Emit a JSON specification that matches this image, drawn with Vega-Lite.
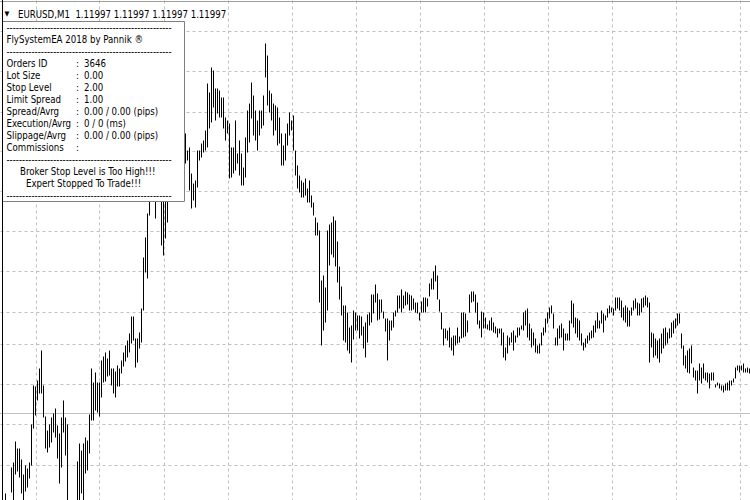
{
  "$schema": "https://vega.github.io/schema/vega-lite/v6.json",
  "width": 750,
  "height": 500,
  "padding": 0,
  "autosize": {"type": "none"},
  "background": "#ffffff",
  "config": {
    "view": {"stroke": null},
    "axis": {"labels": false, "ticks": false, "domain": false, "title": null, "grid": true, "gridColor": "#c0c0c0", "gridDash": [3, 3], "gridWidth": 1, "gridOpacity": 1},
    "text": {"font": "DejaVu Sans Condensed, DejaVu Sans", "fontSize": 9.6, "color": "#000000"}
  },
  "datasets": {
    "bars": [
      {"t":0,"h":1.11917,"l":1.11905},{"t":1,"h":1.11907,"l":1.11895},{"t":2,"h":1.11908,"l":1.11898},{"t":3,"h":1.11943,"l":1.11918},
      {"t":4,"h":1.11948,"l":1.11905},{"t":5,"h":1.11969,"l":1.11936},{"t":6,"h":1.11962,"l":1.11939},{"t":7,"h":1.11962,"l":1.11933},
      {"t":8,"h":1.11951,"l":1.11917},{"t":9,"h":1.11936,"l":1.11905},{"t":10,"h":1.11945,"l":1.11919},{"t":11,"h":1.11942,"l":1.11923},
      {"t":12,"h":1.11948,"l":1.11932},{"t":13,"h":1.11986,"l":1.11945},{"t":14,"h":1.12025,"l":1.11982},{"t":15,"h":1.12024,"l":1.11995},
      {"t":16,"h":1.12030,"l":1.12010},{"t":17,"h":1.12042,"l":1.12017},{"t":18,"h":1.12060,"l":1.12017},{"t":19,"h":1.12025,"l":1.11993},
      {"t":20,"h":1.11994,"l":1.11962},{"t":21,"h":1.11980,"l":1.11958},{"t":22,"h":1.11986,"l":1.11963},{"t":23,"h":1.11993,"l":1.11968},
      {"t":24,"h":1.11997,"l":1.11978},{"t":25,"h":1.12002,"l":1.11973},{"t":26,"h":1.11985,"l":1.11952},{"t":27,"h":1.11977,"l":1.11927},
      {"t":28,"h":1.11993,"l":1.11943},{"t":29,"h":1.12010,"l":1.11978},{"t":30,"h":1.11993,"l":1.11955},{"t":31,"h":1.11986,"l":1.11905},
      {"t":32,"h":1.11907,"l":1.11890},{"t":33,"h":1.11900,"l":1.11885},{"t":34,"h":1.11905,"l":1.11892},{"t":35,"h":1.11908,"l":1.11895},
      {"t":36,"h":1.11949,"l":1.11905},{"t":37,"h":1.11967,"l":1.11905},{"t":38,"h":1.11960,"l":1.11917},{"t":39,"h":1.11967,"l":1.11905},
      {"t":40,"h":1.11973,"l":1.11937},{"t":41,"h":1.11970,"l":1.11940},{"t":42,"h":1.11996,"l":1.11957},{"t":43,"h":1.12042,"l":1.11990},
      {"t":44,"h":1.12028,"l":1.11990},{"t":45,"h":1.12038,"l":1.12000},{"t":46,"h":1.12028,"l":1.11998},{"t":47,"h":1.12028,"l":1.11994},
      {"t":48,"h":1.12050,"l":1.12013},{"t":49,"h":1.12054,"l":1.12028},{"t":50,"h":1.12058,"l":1.12029},{"t":51,"h":1.12052,"l":1.12034},
      {"t":52,"h":1.12060,"l":1.12035},{"t":53,"h":1.12042,"l":1.12025},{"t":54,"h":1.12042,"l":1.12017},{"t":55,"h":1.12039,"l":1.12013},
      {"t":56,"h":1.12045,"l":1.12024},{"t":57,"h":1.12042,"l":1.12024},{"t":58,"h":1.12050,"l":1.12037},{"t":59,"h":1.12058,"l":1.12044},
      {"t":60,"h":1.12065,"l":1.12049},{"t":61,"h":1.12070,"l":1.12053},{"t":62,"h":1.12077,"l":1.12058},{"t":63,"h":1.12094,"l":1.12067},
      {"t":64,"h":1.12094,"l":1.12070},{"t":65,"h":1.12072,"l":1.12043},{"t":66,"h":1.12072,"l":1.12048},{"t":67,"h":1.12078,"l":1.12062},
      {"t":68,"h":1.12102,"l":1.12068},{"t":69,"h":1.12153,"l":1.12100},{"t":70,"h":1.12173,"l":1.12138},{"t":71,"h":1.12197,"l":1.12132},
      {"t":72,"h":1.12225,"l":1.12195},{"t":73,"h":1.12240,"l":1.12214},{"t":74,"h":1.12235,"l":1.12212},{"t":75,"h":1.12230,"l":1.12192},
      {"t":76,"h":1.12250,"l":1.12220},{"t":77,"h":1.12260,"l":1.12225},{"t":78,"h":1.12235,"l":1.12165},{"t":79,"h":1.12220,"l":1.12155},
      {"t":80,"h":1.12230,"l":1.12172},{"t":81,"h":1.12240,"l":1.12188},{"t":82,"h":1.12250,"l":1.12215},{"t":83,"h":1.12260,"l":1.12230},
      {"t":84,"h":1.12270,"l":1.12235},{"t":85,"h":1.12260,"l":1.12225},{"t":86,"h":1.12265,"l":1.12240},{"t":87,"h":1.12275,"l":1.12250},
      {"t":88,"h":1.12270,"l":1.12245},{"t":89,"h":1.12280,"l":1.12255},{"t":90,"h":1.12277,"l":1.12247},{"t":91,"h":1.12260,"l":1.12250},
      {"t":92,"h":1.12263,"l":1.12220},{"t":93,"h":1.12237,"l":1.12202},{"t":94,"h":1.12227,"l":1.12210},{"t":95,"h":1.12230,"l":1.12203},
      {"t":96,"h":1.12260,"l":1.12223},{"t":97,"h":1.12260,"l":1.12250},{"t":98,"h":1.12267,"l":1.12253},{"t":99,"h":1.12270,"l":1.12258},
      {"t":100,"h":1.12280,"l":1.12260},{"t":101,"h":1.12327,"l":1.12263},{"t":102,"h":1.12318,"l":1.12282},{"t":103,"h":1.12343,"l":1.12288},
      {"t":104,"h":1.12340,"l":1.12303},{"t":105,"h":1.12322,"l":1.12290},{"t":106,"h":1.12322,"l":1.12297},{"t":107,"h":1.12320,"l":1.12293},
      {"t":108,"h":1.12313,"l":1.12293},{"t":109,"h":1.12313,"l":1.12282},{"t":110,"h":1.12293,"l":1.12270},{"t":111,"h":1.12290,"l":1.12277},
      {"t":112,"h":1.12287,"l":1.12232},{"t":113,"h":1.12263,"l":1.12233},{"t":114,"h":1.12263,"l":1.12237},{"t":115,"h":1.12290,"l":1.12240},
      {"t":116,"h":1.12257,"l":1.12247},{"t":117,"h":1.12270,"l":1.12235},{"t":118,"h":1.12257,"l":1.12225},{"t":119,"h":1.12243,"l":1.12225},
      {"t":120,"h":1.12273,"l":1.12233},{"t":121,"h":1.12300,"l":1.12258},{"t":122,"h":1.12307,"l":1.12268},{"t":123,"h":1.12328,"l":1.12292},
      {"t":124,"h":1.12315,"l":1.12275},{"t":125,"h":1.12300,"l":1.12270},{"t":126,"h":1.12290,"l":1.12260},{"t":127,"h":1.12300,"l":1.12275},
      {"t":128,"h":1.12300,"l":1.12282},{"t":129,"h":1.12315,"l":1.12285},{"t":130,"h":1.12367,"l":1.12333},{"t":131,"h":1.12355,"l":1.12305},
      {"t":132,"h":1.12320,"l":1.12298},{"t":133,"h":1.12317,"l":1.12290},{"t":134,"h":1.12307,"l":1.12275},{"t":135,"h":1.12305,"l":1.12280},
      {"t":136,"h":1.12303,"l":1.12265},{"t":137,"h":1.12293,"l":1.12267},{"t":138,"h":1.12277,"l":1.12245},{"t":139,"h":1.12265,"l":1.12245},
      {"t":140,"h":1.12277,"l":1.12250},{"t":141,"h":1.12287,"l":1.12265},{"t":142,"h":1.12298,"l":1.12275},{"t":143,"h":1.12290,"l":1.12280},
      {"t":144,"h":1.12295,"l":1.12260},{"t":145,"h":1.12260,"l":1.12235},{"t":146,"h":1.12245,"l":1.12222},{"t":147,"h":1.12235,"l":1.12218},
      {"t":148,"h":1.12230,"l":1.12213},{"t":149,"h":1.12228,"l":1.12213},{"t":150,"h":1.12232,"l":1.12215},{"t":151,"h":1.12222,"l":1.12208},
      {"t":152,"h":1.12230,"l":1.12208},{"t":153,"h":1.12215,"l":1.12203},{"t":154,"h":1.12208,"l":1.12195},{"t":155,"h":1.12193,"l":1.12175},
      {"t":156,"h":1.12188,"l":1.12175},{"t":157,"h":1.12180,"l":1.12108},{"t":158,"h":1.12130,"l":1.12065},{"t":159,"h":1.12135,"l":1.12080},
      {"t":160,"h":1.12123,"l":1.12088},{"t":161,"h":1.12180,"l":1.12100},{"t":162,"h":1.12186,"l":1.12145},{"t":163,"h":1.12188,"l":1.12156},
      {"t":164,"h":1.12194,"l":1.12153},{"t":165,"h":1.12190,"l":1.12144},{"t":166,"h":1.12169,"l":1.12128},{"t":167,"h":1.12144,"l":1.12111},
      {"t":168,"h":1.12124,"l":1.12095},{"t":169,"h":1.12105,"l":1.12070},{"t":170,"h":1.12105,"l":1.12068},{"t":171,"h":1.12098,"l":1.12060},
      {"t":172,"h":1.12083,"l":1.12057},{"t":173,"h":1.12085,"l":1.12048},{"t":174,"h":1.12100,"l":1.12071},{"t":175,"h":1.12098,"l":1.12080},
      {"t":176,"h":1.12095,"l":1.12080},{"t":177,"h":1.12095,"l":1.12072},{"t":178,"h":1.12094,"l":1.12075},{"t":179,"h":1.12084,"l":1.12062},
      {"t":180,"h":1.12088,"l":1.12053},{"t":181,"h":1.12096,"l":1.12068},{"t":182,"h":1.12098,"l":1.12085},{"t":183,"h":1.12116,"l":1.12088},
      {"t":184,"h":1.12116,"l":1.12097},{"t":185,"h":1.12126,"l":1.12108},{"t":186,"h":1.12117,"l":1.12090},{"t":187,"h":1.12111,"l":1.12091},
      {"t":188,"h":1.12111,"l":1.12098},{"t":189,"h":1.12099,"l":1.12092},{"t":190,"h":1.12092,"l":1.12079},{"t":191,"h":1.12092,"l":1.12050},
      {"t":192,"h":1.12090,"l":1.12070},{"t":193,"h":1.12090,"l":1.12080},{"t":194,"h":1.12098,"l":1.12083},{"t":195,"h":1.12100,"l":1.12094},
      {"t":196,"h":1.12115,"l":1.12098},{"t":197,"h":1.12115,"l":1.12102},{"t":198,"h":1.12121,"l":1.12098},{"t":199,"h":1.12115,"l":1.12102},
      {"t":200,"h":1.12119,"l":1.12105},{"t":201,"h":1.12118,"l":1.12106},{"t":202,"h":1.12116,"l":1.12100},{"t":203,"h":1.12115,"l":1.12100},
      {"t":204,"h":1.12112,"l":1.12101},{"t":205,"h":1.12108,"l":1.12098},{"t":206,"h":1.12108,"l":1.12097},{"t":207,"h":1.12098,"l":1.12090},
      {"t":208,"h":1.12109,"l":1.12098},{"t":209,"h":1.12113,"l":1.12098},{"t":210,"h":1.12113,"l":1.12098},{"t":211,"h":1.12112,"l":1.12104},
      {"t":212,"h":1.12127,"l":1.12114},{"t":213,"h":1.12132,"l":1.12121},{"t":214,"h":1.12139,"l":1.12121},{"t":215,"h":1.12145,"l":1.12129},
      {"t":216,"h":1.12135,"l":1.12111},{"t":217,"h":1.12111,"l":1.12099},{"t":218,"h":1.12098,"l":1.12081},{"t":219,"h":1.12082,"l":1.12065},
      {"t":220,"h":1.12082,"l":1.12072},{"t":221,"h":1.12080,"l":1.12070},{"t":222,"h":1.12083,"l":1.12063},{"t":223,"h":1.12073,"l":1.12060},
      {"t":224,"h":1.12075,"l":1.12055},{"t":225,"h":1.12075,"l":1.12065},{"t":226,"h":1.12083,"l":1.12067},{"t":227,"h":1.12074,"l":1.12068},
      {"t":228,"h":1.12098,"l":1.12072},{"t":229,"h":1.12098,"l":1.12073},{"t":230,"h":1.12097,"l":1.12074},{"t":231,"h":1.12090,"l":1.12078},
      {"t":232,"h":1.12116,"l":1.12098},{"t":233,"h":1.12119,"l":1.12108},{"t":234,"h":1.12119,"l":1.12109},{"t":235,"h":1.12116,"l":1.12098},
      {"t":236,"h":1.12108,"l":1.12086},{"t":237,"h":1.12090,"l":1.12082},{"t":238,"h":1.12099,"l":1.12073},{"t":239,"h":1.12098,"l":1.12082},
      {"t":240,"h":1.12093,"l":1.12082},{"t":241,"h":1.12086,"l":1.12081},{"t":242,"h":1.12090,"l":1.12080},{"t":243,"h":1.12093,"l":1.12080},
      {"t":244,"h":1.12088,"l":1.12078},{"t":245,"h":1.12084,"l":1.12077},{"t":246,"h":1.12082,"l":1.12073},{"t":247,"h":1.12082,"l":1.12077},
      {"t":248,"h":1.12082,"l":1.12065},{"t":249,"h":1.12078,"l":1.12053},{"t":250,"h":1.12063,"l":1.12050},{"t":251,"h":1.12075,"l":1.12057},
      {"t":252,"h":1.12073,"l":1.12065},{"t":253,"h":1.12078,"l":1.12068},{"t":254,"h":1.12080,"l":1.12060},{"t":255,"h":1.12075,"l":1.12068},
      {"t":256,"h":1.12083,"l":1.12073},{"t":257,"h":1.12083,"l":1.12075},{"t":258,"h":1.12085,"l":1.12081},{"t":259,"h":1.12098,"l":1.12080},
      {"t":260,"h":1.12100,"l":1.12085},{"t":261,"h":1.12102,"l":1.12073},{"t":262,"h":1.12087,"l":1.12070},{"t":263,"h":1.12082,"l":1.12063},
      {"t":264,"h":1.12078,"l":1.12065},{"t":265,"h":1.12072,"l":1.12058},{"t":266,"h":1.12065,"l":1.12057},{"t":267,"h":1.12067,"l":1.12057},
      {"t":268,"h":1.12078,"l":1.12065},{"t":269,"h":1.12083,"l":1.12075},{"t":270,"h":1.12092,"l":1.12078},{"t":271,"h":1.12098,"l":1.12087},
      {"t":272,"h":1.12103,"l":1.12092},{"t":273,"h":1.12105,"l":1.12097},{"t":274,"h":1.12097,"l":1.12082},{"t":275,"h":1.12073,"l":1.12065},
      {"t":276,"h":1.12082,"l":1.12065},{"t":277,"h":1.12085,"l":1.12072},{"t":278,"h":1.12087,"l":1.12073},{"t":279,"h":1.12082,"l":1.12060},
      {"t":280,"h":1.12077,"l":1.12070},{"t":281,"h":1.12077,"l":1.12070},{"t":282,"h":1.12090,"l":1.12070},{"t":283,"h":1.12110,"l":1.12087},
      {"t":284,"h":1.12107,"l":1.12083},{"t":285,"h":1.12093,"l":1.12077},{"t":286,"h":1.12092,"l":1.12073},{"t":287,"h":1.12090,"l":1.12070},
      {"t":288,"h":1.12077,"l":1.12065},{"t":289,"h":1.12068,"l":1.12060},{"t":290,"h":1.12072,"l":1.12063},{"t":291,"h":1.12075,"l":1.12067},
      {"t":292,"h":1.12078,"l":1.12070},{"t":293,"h":1.12080,"l":1.12072},{"t":294,"h":1.12085,"l":1.12073},{"t":295,"h":1.12090,"l":1.12078},
      {"t":296,"h":1.12098,"l":1.12082},{"t":297,"h":1.12090,"l":1.12082},{"t":298,"h":1.12100,"l":1.12087},{"t":299,"h":1.12097,"l":1.12078},
      {"t":300,"h":1.12095,"l":1.12090},{"t":301,"h":1.12102,"l":1.12093},{"t":302,"h":1.12105,"l":1.12097},{"t":303,"h":1.12103,"l":1.12098},
      {"t":304,"h":1.12102,"l":1.12095},{"t":305,"h":1.12113,"l":1.12100},{"t":306,"h":1.12113,"l":1.12102},{"t":307,"h":1.12113,"l":1.12100},
      {"t":308,"h":1.12110,"l":1.12093},{"t":309,"h":1.12103,"l":1.12090},{"t":310,"h":1.12105,"l":1.12088},{"t":311,"h":1.12103,"l":1.12084},
      {"t":312,"h":1.12100,"l":1.12084},{"t":313,"h":1.12103,"l":1.12095},{"t":314,"h":1.12110,"l":1.12100},{"t":315,"h":1.12112,"l":1.12102},
      {"t":316,"h":1.12108,"l":1.12095},{"t":317,"h":1.12107,"l":1.12095},{"t":318,"h":1.12112,"l":1.12098},{"t":319,"h":1.12113,"l":1.12103},
      {"t":320,"h":1.12115,"l":1.12105},{"t":321,"h":1.12113,"l":1.12103},{"t":322,"h":1.12108,"l":1.12048},{"t":323,"h":1.12078,"l":1.12063},
      {"t":324,"h":1.12077,"l":1.12053},{"t":325,"h":1.12072,"l":1.12055},{"t":326,"h":1.12070,"l":1.12052},{"t":327,"h":1.12072,"l":1.12048},
      {"t":328,"h":1.12077,"l":1.12057},{"t":329,"h":1.12082,"l":1.12062},{"t":330,"h":1.12083,"l":1.12065},{"t":331,"h":1.12078,"l":1.12067},
      {"t":332,"h":1.12082,"l":1.12072},{"t":333,"h":1.12088,"l":1.12073},{"t":334,"h":1.12090,"l":1.12077},{"t":335,"h":1.12092,"l":1.12082},
      {"t":336,"h":1.12097,"l":1.12085},{"t":337,"h":1.12097,"l":1.12087},{"t":338,"h":1.12077,"l":1.12062},{"t":339,"h":1.12065,"l":1.12045},
      {"t":340,"h":1.12055,"l":1.12042},{"t":341,"h":1.12060,"l":1.12038},{"t":342,"h":1.12062,"l":1.12037},{"t":343,"h":1.12065,"l":1.12047},
      {"t":344,"h":1.12043,"l":1.12033},{"t":345,"h":1.12040,"l":1.12030},{"t":346,"h":1.12040,"l":1.12017},{"t":347,"h":1.12047,"l":1.12030},
      {"t":348,"h":1.12043,"l":1.12027},{"t":349,"h":1.12047,"l":1.12032},{"t":350,"h":1.12038,"l":1.12030},{"t":351,"h":1.12038,"l":1.12028},
      {"t":352,"h":1.12037,"l":1.12022},{"t":353,"h":1.12038,"l":1.12030},{"t":354,"h":1.12038,"l":1.12030},{"t":355,"h":1.12026,"l":1.12023},
      {"t":356,"h":1.12028,"l":1.12025},{"t":357,"h":1.12027,"l":1.12022},{"t":358,"h":1.12025,"l":1.12020},{"t":359,"h":1.12025,"l":1.12018},
      {"t":360,"h":1.12027,"l":1.12020},{"t":361,"h":1.12028,"l":1.12020},{"t":362,"h":1.12030,"l":1.12020},{"t":363,"h":1.12030,"l":1.12025},
      {"t":364,"h":1.12032,"l":1.12028},{"t":365,"h":1.12043,"l":1.12032},{"t":366,"h":1.12045,"l":1.12040},{"t":367,"h":1.12045,"l":1.12038},
      {"t":368,"h":1.12045,"l":1.12040},{"t":369,"h":1.12047,"l":1.12038},{"t":370,"h":1.12042,"l":1.12038},{"t":371,"h":1.12043,"l":1.12038},
      {"t":372,"h":1.12042,"l":1.12037}
    ]
  },
  "layer": [
    {
      "data": {"values": [{"bid": 1.11997}]},
      "mark": {"type": "rule", "color": "#c0c0c0", "strokeWidth": 1},
      "encoding": {
        "y": {"field": "bid", "type": "quantitative", "scale": {"domain": [1.119105, 1.124105], "nice": false, "zero": false},
              "axis": {"values": [1.12379, 1.12339, 1.12299, 1.12259, 1.12219, 1.12179, 1.12139, 1.12099, 1.12066, 1.12026, 1.11986, 1.11946]}}
      }
    },
    {
      "data": {"name": "bars"},
      "mark": {"type": "rule", "color": "#000000", "strokeWidth": 1, "clip": true},
      "encoding": {
        "x": {"field": "t", "type": "quantitative", "scale": {"domain": [-2.75, 372.25], "nice": false, "zero": false},
              "axis": {"values": [15, 31, 47, 63, 79, 95, 111, 127, 143, 159, 175, 191, 207, 223, 239, 255, 271, 287, 303, 319, 335, 351, 367]}},
        "y": {"field": "h", "type": "quantitative", "scale": {"domain": [1.119105, 1.124105], "nice": false, "zero": false},
              "axis": {"values": [1.12379, 1.12339, 1.12299, 1.12259, 1.12219, 1.12179, 1.12139, 1.12099, 1.12066, 1.12026, 1.11986, 1.11946]}},
        "y2": {"field": "l"}
      }
    },
    {
      "data": {"values": [{}]},
      "mark": {"type": "rect", "fill": "#ffffff", "stroke": "#808080", "strokeWidth": 1},
      "encoding": {
        "x": {"datum": -1.5, "type": "quantitative", "scale": {"domain": [-2.75, 372.25], "nice": false, "zero": false}},
        "x2": {"datum": 89.5},
        "y": {"datum": 1.12389, "type": "quantitative", "scale": {"domain": [1.119105, 1.124105], "nice": false, "zero": false}},
        "y2": {"datum": 1.12209}
      }
    },
    {
      "data": {"values": [{}]},
      "mark": {"type": "rule", "color": "#a0a0a0", "strokeWidth": 1},
      "encoding": {
        "y": {"datum": 1.12409, "type": "quantitative", "scale": {"domain": [1.119105, 1.124105], "nice": false, "zero": false}}
      }
    },
    {
      "data": {"values": [{}]},
      "mark": {"type": "rule", "color": "#000000", "strokeWidth": 1},
      "encoding": {
        "x": {"datum": -1.5, "type": "quantitative", "scale": {"domain": [-2.75, 372.25], "nice": false, "zero": false}}
      }
    },
    {
      "data": {"values": [{}]},
      "mark": {"type": "text", "align": "left", "baseline": "alphabetic", "lineHeight": 12,
               "text": ["-----------------------------------------------------", "FlySystemEA 2018 by Pannik ®", "-----------------------------------------------------", "Orders ID", "Lot Size", "Stop Level", "Limit Spread", "Spread/Avrg", "Execution/Avrg", "Slippage/Avrg", "Commissions", "-----------------------------------------------------"]},
      "encoding": {
        "x": {"datum": 0.5, "type": "quantitative", "scale": {"domain": [-2.75, 372.25], "nice": false, "zero": false}},
        "y": {"datum": 1.1238, "type": "quantitative", "scale": {"domain": [1.119105, 1.124105], "nice": false, "zero": false}}
      }
    },
    {
      "data": {"values": [{}]},
      "mark": {"type": "text", "align": "left", "baseline": "alphabetic", "text": "-----------------------------------------------------"},
      "encoding": {
        "x": {"datum": 0.5, "type": "quantitative", "scale": {"domain": [-2.75, 372.25], "nice": false, "zero": false}},
        "y": {"datum": 1.12212, "type": "quantitative", "scale": {"domain": [1.119105, 1.124105], "nice": false, "zero": false}}
      }
    },
    {
      "data": {"values": [{}]},
      "mark": {"type": "text", "align": "left", "baseline": "alphabetic", "lineHeight": 12,
               "text": [":", ":", ":", ":", ":", ":", ":", ":"]},
      "encoding": {
        "x": {"datum": 35.25, "type": "quantitative", "scale": {"domain": [-2.75, 372.25], "nice": false, "zero": false}},
        "y": {"datum": 1.12344, "type": "quantitative", "scale": {"domain": [1.119105, 1.124105], "nice": false, "zero": false}}
      }
    },
    {
      "data": {"values": [{}]},
      "mark": {"type": "text", "align": "left", "baseline": "alphabetic", "lineHeight": 12,
               "text": ["3646", "0.00", "2.00", "1.00", "0.00 / 0.00 (pips)", "0 / 0 (ms)", "0.00 / 0.00 (pips)"]},
      "encoding": {
        "x": {"datum": 39.25, "type": "quantitative", "scale": {"domain": [-2.75, 372.25], "nice": false, "zero": false}},
        "y": {"datum": 1.12344, "type": "quantitative", "scale": {"domain": [1.119105, 1.124105], "nice": false, "zero": false}}
      }
    },
    {
      "data": {"values": [{}]},
      "mark": {"type": "text", "align": "left", "baseline": "alphabetic", "text": "Broker Stop Level is Too High!!!"},
      "encoding": {
        "x": {"datum": 7.25, "type": "quantitative", "scale": {"domain": [-2.75, 372.25], "nice": false, "zero": false}},
        "y": {"datum": 1.12236, "type": "quantitative", "scale": {"domain": [1.119105, 1.124105], "nice": false, "zero": false}}
      }
    },
    {
      "data": {"values": [{}]},
      "mark": {"type": "text", "align": "left", "baseline": "alphabetic", "text": "Expert Stopped To Trade!!!"},
      "encoding": {
        "x": {"datum": 10.25, "type": "quantitative", "scale": {"domain": [-2.75, 372.25], "nice": false, "zero": false}},
        "y": {"datum": 1.12224, "type": "quantitative", "scale": {"domain": [1.119105, 1.124105], "nice": false, "zero": false}}
      }
    },
    {
      "data": {"values": [{}]},
      "mark": {"type": "text", "align": "left", "baseline": "alphabetic", "fontSize": 7, "text": "▼"},
      "encoding": {
        "x": {"datum": -0.5, "type": "quantitative", "scale": {"domain": [-2.75, 372.25], "nice": false, "zero": false}},
        "y": {"datum": 1.123945, "type": "quantitative", "scale": {"domain": [1.119105, 1.124105], "nice": false, "zero": false}}
      }
    },
    {
      "data": {"values": [{}]},
      "mark": {"type": "text", "align": "left", "baseline": "alphabetic", "text": "EURUSD,M1\u00a0\u00a01.11997 1.11997 1.11997 1.11997"},
      "encoding": {
        "x": {"datum": 6.25, "type": "quantitative", "scale": {"domain": [-2.75, 372.25], "nice": false, "zero": false}},
        "y": {"datum": 1.12393, "type": "quantitative", "scale": {"domain": [1.119105, 1.124105], "nice": false, "zero": false}}
      }
    }
  ]
}
